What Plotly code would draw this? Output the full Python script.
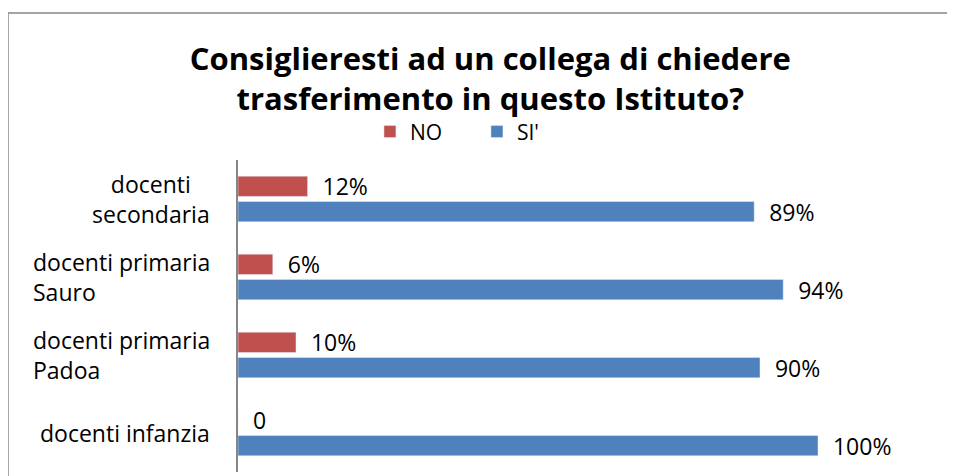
import plotly.graph_objects as go

categorie = ["docenti infanzia", "docenti primaria Padoa", "docenti primaria Sauro", "docenti secondaria"]
etichette = ["docenti infanzia", "docenti primaria<br>Padoa", "docenti primaria<br>Sauro", "docenti<br>secondaria"]
allinea = ["right", "left", "left", "center"]
si_val = [1.00, 0.90, 0.94, 0.89]
no_val = [0.0, 0.10, 0.06, 0.12]
no_txt = ["0", "10%", "6%", "12%"]
si_txt = ["100%", "90%", "94%", "89%"]

FONT = "Open Sans"
pad = "\u00a0\u00a0"

fig = go.Figure()
fig.add_trace(go.Bar(y=categorie, x=si_val, name="SI'", orientation="h",
                     marker=dict(color="#4F81BD"),
                     text=si_txt, texttemplate=pad + "%{text}", textposition="outside",
                     textfont=dict(family=FONT, size=23, color="#000"),
                     constraintext="none", cliponaxis=False))
fig.add_trace(go.Bar(y=categorie, x=no_val, name="NO", orientation="h",
                     marker=dict(color="#C0504D"),
                     text=no_txt, texttemplate=pad + "%{text}", textposition="outside",
                     textfont=dict(family=FONT, size=23, color="#000"),
                     constraintext="none", cliponaxis=False))

# etichette delle categorie come annotazioni (allineamento misto come nell'originale)
for cat, lab, al in zip(categorie, etichette, allinea):
    fig.add_annotation(x=-0.0374, xref="paper", y=cat, yref="y", text=lab,
                       showarrow=False, xanchor="right", align=al,
                       font=dict(family=FONT, size=23, color="#000"))

# bordo esterno dell'area grafico
fig.add_shape(type="rect", xref="paper", yref="paper",
              x0=-0.3305, x1=1.2, y0=-0.2, y1=1.471,
              line=dict(color="#868686", width=1.5), layer="below")

fig.update_layout(
    width=955, height=476,
    margin=dict(l=230, r=29, t=152, b=12, autoexpand=False),
    paper_bgcolor="white", plot_bgcolor="white",
    barmode="group", bargap=0.35, bargroupgap=0.2,
    font=dict(family=FONT, size=23, color="#000"),
    title=dict(text="<b>Consiglieresti ad un collega di chiedere<br>trasferimento in questo Istituto?</b>",
               x=0.505, xanchor="center", xref="container",
               y=0.87, yanchor="top", font=dict(family=FONT, size=31, color="#000")),
    legend=dict(orientation="h", x=0.379, xref="container", xanchor="left",
                y=1.09, yanchor="middle", traceorder="reversed",
                font=dict(family=FONT, size=21, color="#000"),
                entrywidth=62, entrywidthmode="pixels", bgcolor="rgba(0,0,0,0)"),
    xaxis=dict(range=[0, 1.2], visible=False, showgrid=False, zeroline=False),
    yaxis=dict(showticklabels=False, showline=True, linecolor="#868686", linewidth=1.5,
               showgrid=False, ticks=""),
    showlegend=True,
)

fig.write_html("out.html")
